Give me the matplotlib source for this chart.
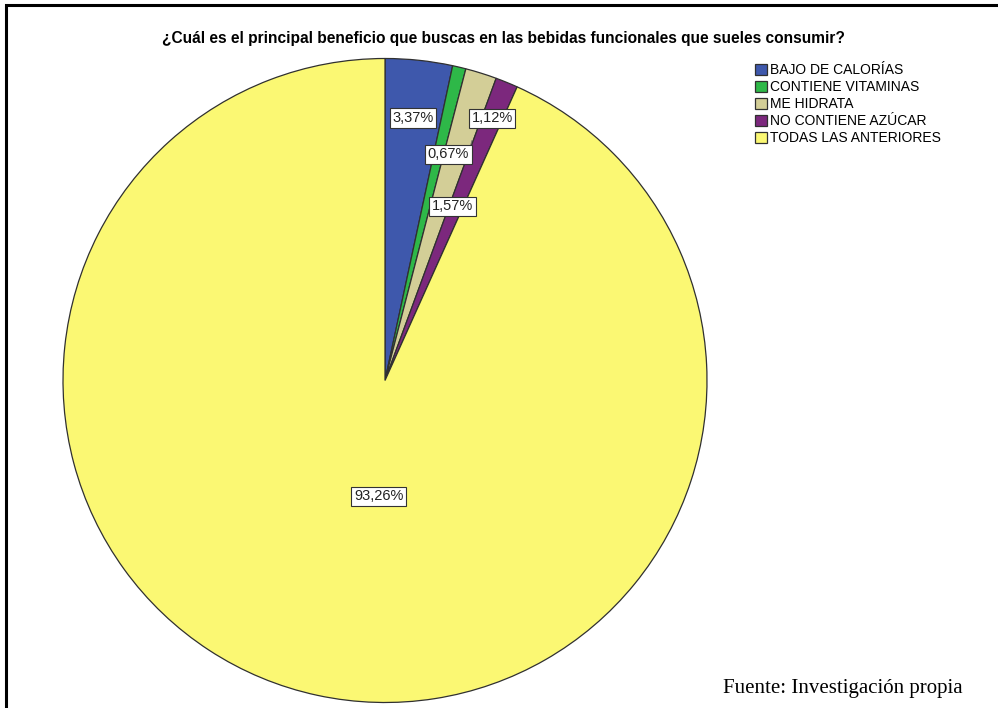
import numpy as np
import matplotlib.pyplot as plt
from matplotlib.patches import Rectangle

categories = ["BAJO DE CALORÍAS", "CONTIENE VITAMINAS", "ME HIDRATA",
              "NO CONTIENE AZÚCAR", "TODAS LAS ANTERIORES"]
percentages = [3.37, 0.67, 1.57, 1.12, 93.26]
colors = ["#3E58AC", "#2EB848", "#D3CE97", "#7C287D", "#FBF873"]

title = "¿Cuál es el principal beneficio que buscas en las bebidas funcionales que sueles consumir?"
source = "Fuente: Investigación propia"

# where each percentage box sits: fraction of the radius, and a small turn (degrees, clockwise)
label_radius = [0.82, 0.73, 0.58, 0.88, 0.36]
label_turn = [0.0, 2.3, 3.8, 0.0, -9.0]


def main():
    plt.rcParams['font.family'] = ['Liberation Sans', 'DejaVu Sans']

    W, H = 998, 708
    fig = plt.figure(figsize=(W / 100, H / 100), dpi=100)

    # outer frame
    fig.patches.append(Rectangle((6 / W, -0.1), 1.2, (H - 5) / H + 0.1,
                                 transform=fig.transFigure, fill=False,
                                 edgecolor="black", linewidth=2.2))

    cx, cy, r = 385, H - 380.5, 322
    ax = fig.add_axes([(cx - r) / W, (cy - r) / H, 2 * r / W, 2 * r / H])

    wedges, _ = ax.pie(percentages, colors=colors, startangle=90, counterclock=False,
                       radius=1.0,
                       wedgeprops=dict(edgecolor="#303030", linewidth=0.9))
    ax.set_xlim(-1, 1)
    ax.set_ylim(-1, 1)
    ax.set_aspect("equal")
    ax.axis("off")

    for w, pct, rr, turn in zip(wedges, percentages, label_radius, label_turn):
        mid = np.deg2rad((w.theta1 + w.theta2) / 2 - turn)
        ax.text(rr * np.cos(mid), rr * np.sin(mid), f"{pct:.2f}%".replace(".", ","),
                ha="center", va="center", fontsize=10.5, color="#222222",
                bbox=dict(boxstyle="square,pad=0.18", facecolor="white",
                          edgecolor="#333333", linewidth=0.8))
    # the 1,12% box is pulled out; leader line back to its slice
    ax.plot([0.27, 0.255], [0.745, 0.69], color="#666666", linewidth=0.6)

    fig.text(503 / W, 1 - 38 / H, title, ha="center", va="center",
             fontsize=11.2, fontweight="bold")

    fig.legend(wedges, categories, loc="upper left", bbox_to_anchor=(755 / W, 1 - 63 / H),
               frameon=False, fontsize=10, handlelength=0.85, handleheight=0.85,
               handletextpad=0.2, labelspacing=0.22, borderpad=0, borderaxespad=0)

    fig.text(723 / W, 1 - 688 / H, source, ha="left", va="center",
             fontsize=15, family=["Liberation Serif", "DejaVu Serif"])

    fig.savefig("out.png", dpi=100, facecolor="white")
    plt.close(fig)


if __name__ == "__main__":
    main()
